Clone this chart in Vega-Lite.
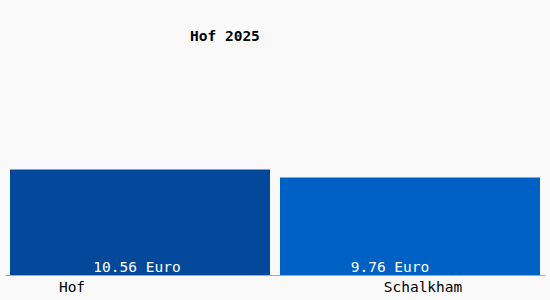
{
  "$schema": "https://vega.github.io/schema/vega-lite/v6.json",
  "autosize": "none",
  "width": 540,
  "height": 200,
  "padding": {"left": 5, "top": 75, "right": 5, "bottom": 25},
  "background": "#f9f9f9",
  "title": {"text": "Hof 2025", "anchor": "start", "dx": 185, "offset": 31, "font": "DejaVu Sans Mono", "fontSize": 14.5, "fontWeight": "bold", "color": "#000000"},
  "data": {"values": [
    {"ort": "Hof", "wert": 10.56, "label": "10.56 Euro"},
    {"ort": "Schalkham", "wert": 9.76, "label": "9.76 Euro"}
  ]},
  "encoding": {
    "x": {"field": "ort", "type": "nominal", "sort": null,
      "scale": {"paddingInner": 0.037, "paddingOuter": 0.0185},
      "axis": {"title": null, "ticks": false, "domainColor": "#aaaaaa", "labelAngle": 0, "labelFont": "DejaVu Sans Mono", "labelFontSize": 14.5, "labelColor": "#000000", "labelPadding": 5,
        "labelOffset": {"expr": "datum.value == 'Hof' ? -68 : 13"}}}
  },
  "layer": [
    {"mark": {"type": "bar"},
     "encoding": {
       "y": {"field": "wert", "type": "quantitative", "scale": {"domain": [0, 20]}, "axis": null},
       "color": {"field": "ort", "type": "nominal", "scale": {"domain": ["Hof", "Schalkham"], "range": ["#03489a", "#0061c4"]}, "legend": null}
     }},
    {"transform": [{"filter": "datum.ort == 'Hof'"}],
     "mark": {"type": "text", "baseline": "bottom", "dy": 0, "dx": -3, "color": "#ffffff", "font": "DejaVu Sans Mono", "fontSize": 14.5},
     "encoding": {
       "y": {"datum": 0, "type": "quantitative"},
       "text": {"field": "label"}
     }},
    {"transform": [{"filter": "datum.ort == 'Schalkham'"}],
     "mark": {"type": "text", "baseline": "bottom", "dy": 0, "dx": -20, "color": "#ffffff", "font": "DejaVu Sans Mono", "fontSize": 14.5},
     "encoding": {
       "y": {"datum": 0, "type": "quantitative"},
       "text": {"field": "label"}
     }}
  ],
  "config": {"view": {"stroke": null}}
}
